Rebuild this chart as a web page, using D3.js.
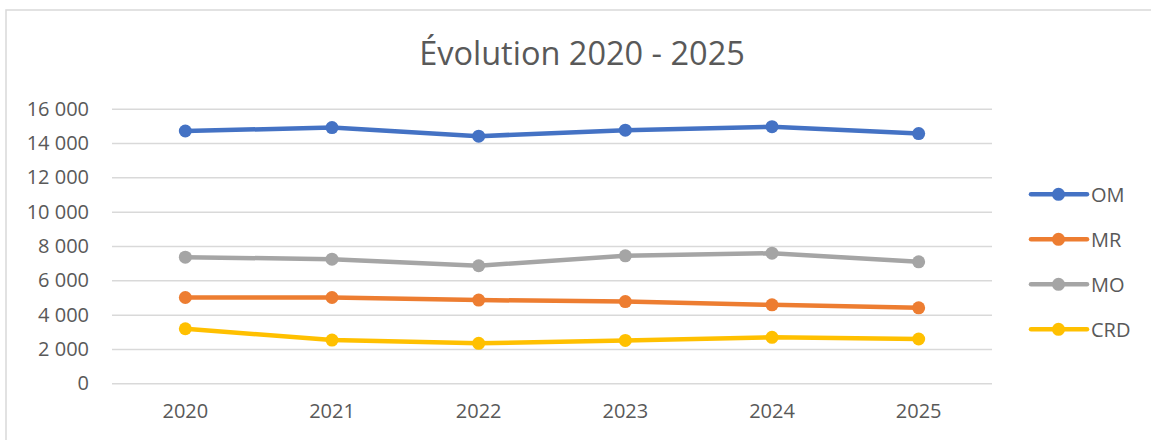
<!DOCTYPE html>
<html>
<head>
<meta charset="utf-8">
<title>Évolution 2020 - 2025</title>
<script src="https://d3js.org/d3.v7.min.js"></script>
<style>
    body { margin: 0; background: #fff; }
    svg { display: block; font-family: 'Open Sans', sans-serif; }
    .axis path { display: none; }
    .axis line { stroke: #d9d9d9; stroke-width: 1.5px; }
    .axis text { fill: #595959; font-size: 20px; font-family: 'Open Sans', sans-serif; }
    .line { fill: none; stroke-width: 4.5px; stroke-linejoin: round; }
</style>
</head>
<body>
<svg id="chart" width="1151" height="440"></svg>
<script>
    const years = ['2020', '2021', '2022', '2023', '2024', '2025'];
    const seriesNames = ['OM', 'MR', 'MO', 'CRD'];
    const omValues = [14700, 14900, 14400, 14750, 14950, 14550];
    const mrValues = [5000, 5000, 4850, 4760, 4570, 4400];
    const moValues = [7350, 7230, 6850, 7430, 7580, 7080];
    const crdValues = [3180, 2520, 2330, 2500, 2680, 2580];
    const yTicks = [0, 2000, 4000, 6000, 8000, 10000, 12000, 14000, 16000];

    const colors = {OM: '#4472c4', MR: '#ed7d31', MO: '#a5a5a5', CRD: '#ffc000'};
    const series = [
        {name: 'OM', values: omValues},
        {name: 'MR', values: mrValues},
        {name: 'MO', values: moValues},
        {name: 'CRD', values: crdValues}
    ];

    const svg = d3.select('#chart');
    const margin = {top: 108.7, left: 112, right: 159, bottom: 56.7};
    const width = 1151 - margin.left - margin.right;
    const height = 440 - margin.top - margin.bottom;

    // chart frame (only top and left edges are visible in the window)
    svg.append('rect')
        .attr('x', 6).attr('y', 10)
        .attr('width', 1200).attr('height', 500)
        .attr('fill', 'none')
        .attr('stroke', '#d9d9d9')
        .attr('stroke-width', 1.5);

    svg.append('text')
        .attr('x', 582).attr('y', 65)
        .attr('text-anchor', 'middle')
        .attr('fill', '#595959')
        .style('font-size', '32.5px')
        .text('Évolution 2020 - 2025');

    const fr = d3.formatLocale({decimal: ',', thousands: '\u00a0', grouping: [3], currency: ['', ' €']});

    const x = d3.scaleBand().domain(years).range([0, width]);
    const y = d3.scaleLinear().domain([0, 16000]).range([height, 0]);

    const g = svg.append('g')
        .attr('transform', 'translate(' + margin.left + ',' + margin.top + ')');

    g.append('g')
        .attr('class', 'axis axis--y')
        .call(d3.axisLeft(y).tickValues(yTicks).tickSize(-width).tickPadding(23).tickFormat(fr.format(',d')));

    g.append('g')
        .attr('class', 'axis axis--x')
        .attr('transform', 'translate(0,' + height + ')')
        .call(d3.axisBottom(x).tickSize(0).tickPadding(21))
        .selectAll('text').attr('dy', '0.71em');

    const line = d3.line()
        .x(function(d, i) { return x(years[i]) + x.bandwidth() / 2; })
        .y(function(d) { return y(d); });

    series.forEach(function(s) {
        g.append('path')
            .datum(s.values)
            .attr('class', 'line')
            .attr('stroke', colors[s.name])
            .attr('d', line);

        g.selectAll('.dot-' + s.name)
            .data(s.values)
            .enter().append('circle')
            .attr('cx', function(d, i) { return x(years[i]) + x.bandwidth() / 2; })
            .attr('cy', function(d) { return y(d); })
            .attr('r', 6.5)
            .attr('fill', colors[s.name]);
    });

    const legend = svg.append('g').attr('transform', 'translate(1031,194.3)');
    seriesNames.forEach(function(name, i) {
        const row = legend.append('g').attr('transform', 'translate(0,' + i * 45 + ')');
        row.append('line')
            .attr('x1', 0).attr('x2', 56)
            .attr('stroke', colors[name])
            .attr('stroke-width', 4.5)
            .attr('stroke-linecap', 'round');
        row.append('circle').attr('cx', 27.5).attr('r', 6.5).attr('fill', colors[name]);
        row.append('text')
            .attr('x', 60).attr('dy', '0.36em')
            .attr('fill', '#595959')
            .style('font-size', '20px')
            .text(name);
    });
</script>
</body>
</html>
